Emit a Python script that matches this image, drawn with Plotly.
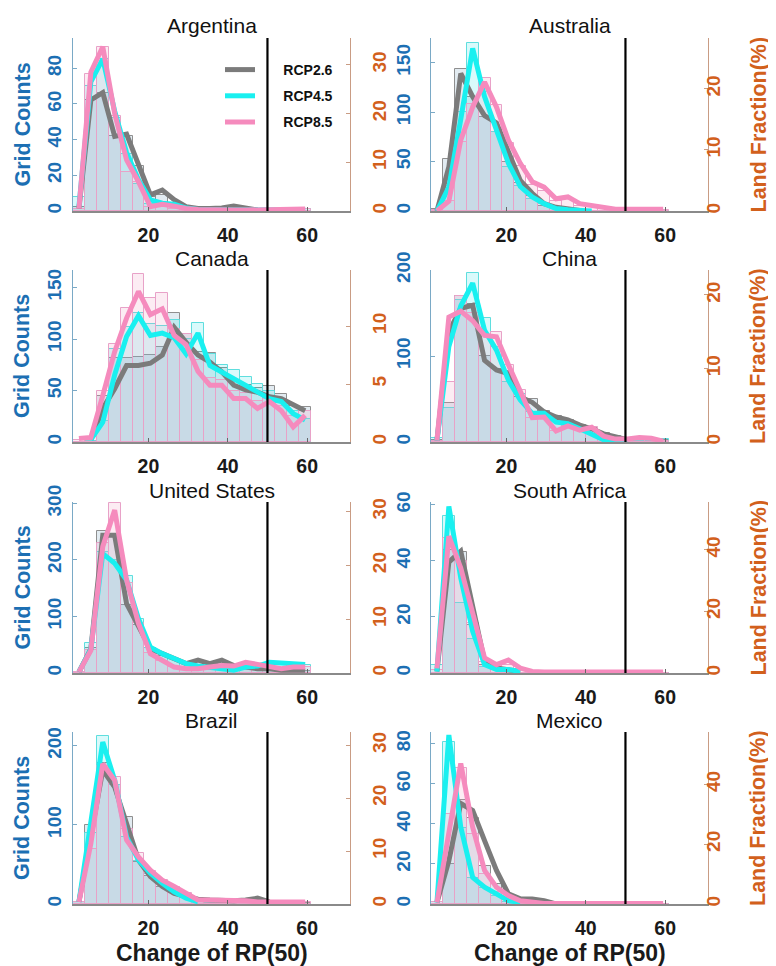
import plotly.graph_objects as go

# ---------------- data ----------------
BIN_CENTERS = [2.5, 5.5, 8.5, 11.5, 14.5, 17.5, 20.5, 23.5, 26.5, 29.5,
               32.5, 35.5, 38.5, 41.5, 44.5, 47.5, 50.5, 53.5, 56.5, 59.5]
SCENARIOS = ["RCP2.6", "RCP4.5", "RCP8.5"]
X_TICKS = [20, 40, 60]
THRESHOLD = 50

# Argentina
ARG_BAR_26 = [2, 62, 66, 42, 42, 25, 8, 9, 4, 1, 1, 0, 1, 1, 1, 0, 0, 0, 0, 0]
ARG_BAR_45 = [8, 70, 85, 52, 32, 15, 4, 3, 2, 1, 0, 0, 0, 0, 0, 0, 0, 0, 0, 1]
ARG_BAR_85 = [1, 77, 92, 53, 22, 16, 2, 2, 1, 0, 0, 0, 0, 0, 0, 0, 0, 0, 0, 1]
ARG_LINE_26 = [0.5, 22.8, 24.3, 15.3, 15.8, 9.8, 3.3, 4.3, 2.3, 0.9, 0.5, 0.5, 0.6, 1.0, 0.6, 0.2, None, None, None, None]
ARG_LINE_45 = [1.0, 26.5, 31.2, 20.5, 12.0, 6.4, 2.3, 1.6, 1.4, 0.6, 0.3, 0.2, 0.2, 0.2, 0.2, 0.2, 0.2, 0.2, 0.2, 0.3]
ARG_LINE_85 = [0.5, 28.5, 33.7, 20.0, 10.5, 6.0, 0.9, 1.4, 1.0, 0.5, 0.3, 0.2, 0.2, 0.2, 0.2, 0.2, 0.2, 0.2, 0.2, 0.4]

# Australia
AUS_BAR_26 = [2, 53, 144, 115, 95, 80, 50, 28, 15, 5, 3, 1, 0, 0, 0, 0, 0, 0, 0, 0]
AUS_BAR_45 = [1, 25, 100, 170, 120, 80, 45, 25, 12, 7, 2, 1, 0, 0, 0, 0, 0, 0, 0, 0]
AUS_BAR_85 = [1, 10, 70, 108, 135, 107, 69, 46, 26, 20, 10, 12, 5, 4, 2, 2, 1, 1, 1, 1]
AUS_LINE_26 = [0.0, 7.2, 22.5, 18.7, 15.6, 14.4, 9.7, 5.0, 2.9, 1.2, 0.6, 0.3, 0.1, None, None, None, None, None, None, None]
AUS_LINE_45 = [0.0, 3.9, 15.0, 26.6, 18.7, 13.2, 7.8, 4.0, 2.3, 1.2, 0.4, 0.2, 0.1, 0.0, None, None, None, None, None, None]
AUS_LINE_85 = [0.0, 1.6, 11.6, 17.0, 21.1, 17.0, 11.6, 7.8, 4.8, 3.9, 2.0, 2.3, 1.2, 0.9, 0.4, 0.3, 0.3, 0.3, 0.3, 0.3]

# Canada
CAN_BAR_26 = [0, 0, 45, 82, 82, 83, 84, 92, 125, 105, 87, 86, 72, 60, 55, 52, 54, 47, 35, 34]
CAN_BAR_45 = [0, 1, 20, 90, 112, 125, 115, 113, 118, 100, 116, 85, 75, 70, 63, 56, 50, 38, 30, 22]
CAN_BAR_85 = [2, 5, 50, 95, 130, 163, 140, 145, 110, 105, 80, 62, 60, 50, 48, 40, 42, 35, 25, 30]
CAN_LINE_26 = [None, 0.2, 2.9, 4.6, 6.6, 6.6, 6.8, 7.5, 9.9, 8.6, 7.5, 6.9, 6.05, 4.9, 4.5, 4.3, 3.9, 3.75, 3.2, 2.7]
CAN_LINE_45 = [None, 0.2, 1.7, 5.8, 9.1, 10.9, 9.2, 9.4, 9.0, 7.6, 9.4, 6.6, 6.05, 5.5, 4.9, 4.3, 3.75, 3.5, 2.45, 1.9]
CAN_LINE_85 = [0.3, 0.4, 4.0, 7.8, 10.7, 13.0, 11.0, 11.5, 9.2, 8.4, 6.1, 4.9, 4.9, 3.75, 3.75, 2.9, 3.5, 2.7, 1.3, 2.3]

# China
CHN_BAR_26 = [2, 45, 170, 160, 100, 85, 83, 52, 50, 36, 30, 26, 20, 16, 10, 7, 3, 2, 2, 2]
CHN_BAR_45 = [5, 40, 165, 196, 144, 110, 70, 56, 35, 33, 24, 22, 16, 9, 3, 2, 2, 1, 1, 3]
CHN_BAR_85 = [1, 70, 170, 150, 125, 128, 90, 60, 28, 29, 13, 19, 14, 17, 6, 3, 3, 5, 4, 1]
CHN_LINE_26 = [0.2, 15.0, 18.2, 18.6, 11.1, 9.8, 9.3, 6.1, 5.4, 4.1, 3.4, 3.0, 2.3, 1.8, 1.1, 0.7, 0.3, None, None, None]
CHN_LINE_45 = [0.2, 13.0, 18.5, 21.6, 15.2, 12.5, 8.4, 5.7, 3.9, 3.9, 2.7, 2.5, 1.8, 1.0, 0.3, 0.2, 0.2, None, None, None]
CHN_LINE_85 = [0.2, 17.0, 17.8, 16.5, 14.5, 14.3, 10.5, 7.0, 3.3, 3.4, 1.5, 2.2, 1.6, 2.0, 0.8, 0.4, 0.4, 0.6, 0.5, 0.1]

# United States
USA_BAR_26 = [0, 45, 252, 240, 120, 85, 45, 30, 25, 18, 20, 16, 20, 12, 10, 8, 5, 5, 4, 4]
USA_BAR_45 = [2, 53, 215, 200, 172, 95, 45, 33, 25, 17, 12, 10, 8, 5, 10, 12, 18, 17, 17, 14]
USA_BAR_85 = [1, 40, 230, 300, 160, 88, 35, 22, 10, 7, 7, 10, 13, 12, 18, 15, 10, 8, 10, 10]
USA_LINE_26 = [0.2, 4.5, 25.6, 25.6, 12.9, 8.6, 4.5, 3.6, 2.7, 1.75, 2.4, 1.75, 2.4, 1.4, 1.1, 0.8, 0.8, 0.5, 0.5, 0.5]
USA_LINE_45 = [0.2, 4.4, 22.2, 20.4, 17.3, 10.1, 4.8, 3.6, 2.7, 1.75, 1.3, 1.1, 0.8, 0.5, 1.1, 1.3, 2.0, 1.8, 1.8, 1.6]
USA_LINE_85 = [0.2, 4.2, 23.5, 30.3, 17.3, 9.2, 3.6, 2.4, 1.1, 0.8, 0.8, 1.1, 1.4, 1.3, 2.0, 1.6, 1.1, 0.8, 1.1, 1.1]

# South Africa
ZAF_BAR_26 = [0, 44, 43, 17, 3, 1, 0, 0, 0, 0, 0, 0, 0, 0, 0, 0, 0, 0, 0, 0]
ZAF_BAR_45 = [3, 56, 25, 12, 2, 0, 0, 0, 0, 0, 0, 0, 0, 0, 0, 0, 0, 0, 0, 0]
ZAF_BAR_85 = [1, 48, 40, 18, 4, 2, 3, 1, 0, 0, 0, 0, 0, 0, 0, 0, 0, 0, 0, 0]
ZAF_LINE_26 = [0.5, 36.0, 39.5, 21.1, 3.8, 1.6, 1.1, 0.5, None, None, None, None, None, None, None, None, None, None, None, None]
ZAF_LINE_45 = [0.5, 54.1, 30.8, 13.5, 2.7, 1.1, 1.1, 0.5, None, None, None, None, None, None, None, None, None, None, None, None]
ZAF_LINE_85 = [1.5, 44.4, 34.1, 19.0, 4.9, 2.7, 4.2, 1.6, 0.5, 0.3, 0.3, 0.3, 0.3, 0.3, 0.3, 0.3, 0.3, 0.3, 0.3, 0.3]

# Brazil
BRA_BAR_26 = [2, 100, 178, 150, 110, 53, 35, 22, 14, 8, 4, 2, 2, 2, 2, 2, 1, 1, 1, 1]
BRA_BAR_45 = [3, 90, 213, 150, 85, 55, 38, 25, 15, 8, 3, 1, 1, 0, 0, 0, 0, 0, 0, 0]
BRA_BAR_85 = [2, 70, 175, 161, 95, 64, 42, 30, 22, 14, 5, 5, 4, 3, 3, 2, 2, 2, 2, 2]
BRA_LINE_26 = [0.4, 12.7, 25.3, 22.1, 15.2, 8.3, 5.2, 3.3, 2.0, 1.4, 0.9, 0.75, 0.6, 0.6, 0.75, 1.1, 0.4, None, None, None]
BRA_LINE_45 = [0.4, 15.2, 30.6, 23.4, 12.7, 8.3, 5.8, 3.9, 2.3, 1.1, 0.4, None, None, None, None, None, None, None, None, None]
BRA_LINE_85 = [0.4, 11.4, 26.5, 23.4, 12.1, 8.9, 6.4, 4.5, 3.3, 2.0, 0.75, 0.75, 0.75, 0.6, 0.6, 0.4, 0.4, 0.4, 0.4, 0.4]

# Mexico
MEX_BAR_26 = [0, 20, 52, 43, 19, 10, 3, 1, 1, 0, 0, 0, 0, 0, 0, 0, 0, 0, 0, 0]
MEX_BAR_45 = [1, 81, 38, 13, 8, 4, 1, 0, 0, 0, 0, 0, 0, 0, 0, 0, 0, 0, 0, 0]
MEX_BAR_85 = [1, 45, 68, 35, 15, 6, 3, 1, 0, 0, 0, 0, 0, 0, 0, 0, 0, 0, 0, 0]
MEX_LINE_26 = [0.5, 14.5, 33.6, 31.3, 21.2, 11.2, 3.4, 1.7, 1.7, 1.1, 0.0, None, None, None, None, None, None, None, None, None]
MEX_LINE_45 = [0.5, 56.5, 25.7, 8.9, 5.6, 3.4, 1.1, 0.5, None, None, None, None, None, None, None, None, None, None, None, None]
MEX_LINE_85 = [0.5, 24.6, 47.0, 25.7, 11.2, 5.6, 2.8, 1.1, 0.5, 0.2, 0.2, 0.2, 0.2, 0.2, 0.2, 0.2, 0.2, 0.2, 0.2, 0.2]

COUNTRIES = ["Argentina", "Australia", "Canada", "China",
             "United States", "South Africa", "Brazil", "Mexico"]
BARS = [
    (ARG_BAR_26, ARG_BAR_45, ARG_BAR_85), (AUS_BAR_26, AUS_BAR_45, AUS_BAR_85),
    (CAN_BAR_26, CAN_BAR_45, CAN_BAR_85), (CHN_BAR_26, CHN_BAR_45, CHN_BAR_85),
    (USA_BAR_26, USA_BAR_45, USA_BAR_85), (ZAF_BAR_26, ZAF_BAR_45, ZAF_BAR_85),
    (BRA_BAR_26, BRA_BAR_45, BRA_BAR_85), (MEX_BAR_26, MEX_BAR_45, MEX_BAR_85),
]
LINES = [
    (ARG_LINE_26, ARG_LINE_45, ARG_LINE_85), (AUS_LINE_26, AUS_LINE_45, AUS_LINE_85),
    (CAN_LINE_26, CAN_LINE_45, CAN_LINE_85), (CHN_LINE_26, CHN_LINE_45, CHN_LINE_85),
    (USA_LINE_26, USA_LINE_45, USA_LINE_85), (ZAF_LINE_26, ZAF_LINE_45, ZAF_LINE_85),
    (BRA_LINE_26, BRA_LINE_45, BRA_LINE_85), (MEX_LINE_26, MEX_LINE_45, MEX_LINE_85),
]
LEFT_MAX = [97, 175, 167, 200, 302.6, 61, 217.5, 85.8]
LEFT_TICKS = [[0, 20, 40, 60, 80], [0, 50, 100, 150], [0, 50, 100, 150], [0, 100, 200],
              [0, 100, 200, 300], [0, 20, 40, 60], [0, 100, 200], [0, 20, 40, 60, 80]]
RIGHT_MAX = [35.5, 28.3, 14.85, 23.4, 31.8, 55.5, 32.5, 57.5]
RIGHT_TICKS = [[0, 10, 20, 30], [0, 10, 20], [0, 5, 10], [0, 10, 20],
               [0, 10, 20, 30], [0, 20, 40], [0, 10, 20, 30], [0, 20, 40]]

# ---------------- style / layout ----------------
PAGE_OFF = 8                      # page body margin in the browser
W, H = 776 - PAGE_OFF, 966 - PAGE_OFF
COL_X = [(73, 350), (431, 708)]   # page pixels
ROW_Y = [(38, 211), (270, 442), (502, 673), (732, 904)]
X_RANGE = [1, 70.8]
FONT = "Liberation Sans, Arial, sans-serif"
LINE_COLORS = ["#7b7b7b", "#19f0f0", "#f58bbd"]
BAR_FILLS = ["rgba(60,120,160,0.15)", "rgba(0,220,230,0.15)", "rgba(240,150,190,0.18)"]
BAR_EDGES = ["#8f8f8f", "#5fdede", "#e8a2c8"]
BLUE = "#1c6fb3"
ORANGE = "#d2601c"
LEFT_AXIS = "#7aa9c6"
RIGHT_AXIS = "#c99c84"


def fx(px):
    return (px - PAGE_OFF) / W


def fy(py):
    return 1 - (py - PAGE_OFF) / H


fig = go.Figure()
layout = dict(
    width=W, height=H, autosize=False,
    margin=dict(l=0, r=0, t=0, b=0, autoexpand=False),
    paper_bgcolor="white", plot_bgcolor="rgba(0,0,0,0)",
    barmode="overlay", bargap=0,
    font=dict(family=FONT, color="#111"),
    showlegend=True,
    legend=dict(x=fx(220), y=fy(54), xanchor="left", yanchor="top",
                bgcolor="rgba(0,0,0,0)", font=dict(size=14, weight="bold", color="#111"),
                tracegroupgap=5, itemwidth=30),
)
shapes, annotations = [], []

for i, name in enumerate(COUNTRIES):
    r, c = divmod(i, 2)
    x0, x1 = COL_X[c]
    top, bot = ROW_Y[r]
    xn = i + 1
    yl, yr = 2 * i + 1, 2 * i + 2
    xref = "x" if xn == 1 else f"x{xn}"
    ylref = "y" if yl == 1 else f"y{yl}"
    yrref = f"y{yr}"
    xkey = "xaxis" if xn == 1 else f"xaxis{xn}"
    ylkey = "yaxis" if yl == 1 else f"yaxis{yl}"
    yrkey = f"yaxis{yr}"

    for s in range(3):
        fig.add_trace(go.Bar(
            x=BIN_CENTERS, y=BARS[i][s], width=3, xaxis=xref, yaxis=ylref,
            marker=dict(color=BAR_FILLS[s], line=dict(color=BAR_EDGES[s], width=1)),
            showlegend=False, hoverinfo="skip"))
    for s in range(3):
        fig.add_trace(go.Scatter(
            x=BIN_CENTERS, y=LINES[i][s], xaxis=xref, yaxis=yrref, mode="lines",
            line=dict(color=LINE_COLORS[s], width=5), cliponaxis=False,
            name="\u00a0" * 6 + SCENARIOS[s], legendgroup=SCENARIOS[s],
            showlegend=(i == 0), connectgaps=False))

    layout[xkey] = dict(
        domain=[fx(x0), fx(x1)], anchor=ylref, range=X_RANGE, tickvals=X_TICKS,
        ticks="inside", ticklen=4, tickcolor="#666", showline=True, linecolor="#8a8a8a",
        linewidth=1.5, showgrid=False, zeroline=False,
        tickfont=dict(size=19.5, weight="bold", color="#1a1a1a"), ticklabelstandoff=6)
    layout[ylkey] = dict(
        domain=[fy(bot), fy(top)], anchor=xref, range=[0, LEFT_MAX[i]],
        tickvals=LEFT_TICKS[i], ticks="inside", ticklen=4, tickcolor=LEFT_AXIS,
        showline=True, linecolor=LEFT_AXIS, linewidth=1.2, showgrid=False, zeroline=False,
        tickangle=-90, tickfont=dict(size=19, weight="bold", color=BLUE),
        ticklabelstandoff=(3 if c == 0 else 12))
    layout[yrkey] = dict(
        overlaying=ylref, side="right", anchor=xref, range=[0, RIGHT_MAX[i]],
        tickvals=RIGHT_TICKS[i], ticks="inside", ticklen=4, tickcolor=RIGHT_AXIS,
        showline=True, linecolor=RIGHT_AXIS, linewidth=1.2, showgrid=False, zeroline=False,
        tickangle=-90, tickfont=dict(size=19, weight="bold", color=ORANGE),
        ticklabelstandoff=(12 if c == 0 else -12))

    shapes.append(dict(type="line", xref=xref, yref=f"{ylref} domain",
                       x0=THRESHOLD, x1=THRESHOLD, y0=0, y1=1,
                       line=dict(color="black", width=2.2), layer="above"))

    annotations.append(dict(text=name, xref="paper", yref="paper",
                            x=fx((x0 + x1) / 2), y=fy(top - 12),
                            xanchor="center", yanchor="middle", showarrow=False,
                            font=dict(size=21, color="#111")))
    cy = fy((top + bot) / 2)
    if c == 0:
        annotations.append(dict(text="Grid Counts", xref="paper", yref="paper",
                                x=fx(22), y=cy, textangle=-90, xanchor="center",
                                yanchor="middle", showarrow=False,
                                font=dict(size=21.5, weight="bold", color=BLUE)))
    else:
        annotations.append(dict(text="Land Fraction(%)", xref="paper", yref="paper",
                                x=fx(758), y=cy, textangle=-90, xanchor="center",
                                yanchor="middle", showarrow=False,
                                font=dict(size=21.5, weight="bold", color=ORANGE)))
    if r == 3:
        annotations.append(dict(text="Change of RP(50)", xref="paper", yref="paper",
                                x=fx((x0 + x1) / 2), y=fy(953),
                                xanchor="center", yanchor="middle", showarrow=False,
                                font=dict(size=23, weight="bold", color="#1a1a1a")))

layout["shapes"] = shapes
layout["annotations"] = annotations
fig.update_layout(**layout)
fig.write_html("out.html")
